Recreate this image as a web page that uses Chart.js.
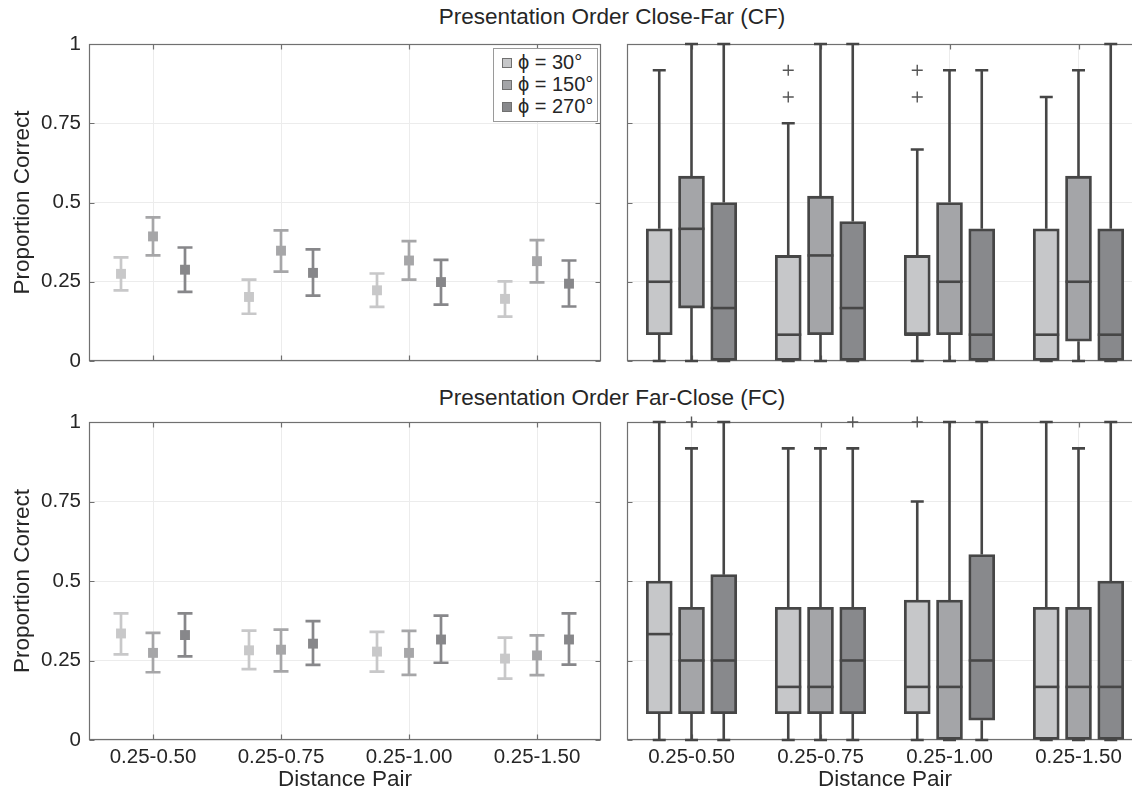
<!DOCTYPE html>
<html>
<head>
<meta charset="utf-8">
<script src="https://cdn.jsdelivr.net/npm/chart.js@4.4.0/dist/chart.umd.min.js"></script>
<style>
  html, body { margin: 0; padding: 0; width: 1132px; height: 796px; overflow: hidden; background: #fff; }
  body { position: relative; font-family: "Liberation Sans", Arial, sans-serif; color: #262626; }
  canvas { position: absolute; }
  .title { position: absolute; left: 312px; width: 600px; text-align: center; font-size: 22.5px; line-height: 26px; }
  .legend { position: absolute; left: 493px; top: 48px; width: 105px; height: 74px; border: 1px solid #9a9a9a; background: #fff; box-sizing: border-box; padding-top: 2px; }
  .legend div { height: 22px; line-height: 22px; font-size: 20px; white-space: nowrap; }
  .legend span { display: inline-block; width: 8px; height: 8px; border: 1px solid #707070; margin: 0 6px 0 8px; vertical-align: 1px; }
</style>
</head>
<body>
<div class="title" style="top:4px">Presentation Order Close-Far (CF)</div>
<div class="title" style="top:385px">Presentation Order Far-Close (FC)</div>

<canvas id="cfMeans" width="608" height="340" style="left:0;top:34px"></canvas>
<canvas id="cfBoxes" width="528" height="340" style="left:620px;top:34px"></canvas>
<canvas id="fcMeans" width="608" height="384" style="left:0;top:412px"></canvas>
<canvas id="fcBoxes" width="528" height="384" style="left:620px;top:412px"></canvas>

<div class="legend" id="legend"></div>

<script>
// categories and series
const distancePairs = ["0.25-0.50", "0.25-0.75", "0.25-1.00", "0.25-1.50"];
const phiLabels = ["ϕ = 30°", "ϕ = 150°", "ϕ = 270°"];

// mean proportion correct with error bar ends, one row per phi
const cfMean = [[0.275, 0.202, 0.223, 0.196], [0.393, 0.348, 0.317, 0.315], [0.288, 0.278, 0.249, 0.244]];
const cfLow  = [[0.223, 0.149, 0.171, 0.140], [0.333, 0.282, 0.257, 0.248], [0.218, 0.206, 0.178, 0.172]];
const cfHigh = [[0.327, 0.257, 0.276, 0.251], [0.453, 0.412, 0.378, 0.381], [0.358, 0.352, 0.319, 0.317]];

const fcMean = [[0.335, 0.282, 0.278, 0.256], [0.274, 0.284, 0.274, 0.266], [0.330, 0.303, 0.316, 0.316]];
const fcLow  = [[0.269, 0.223, 0.215, 0.193], [0.213, 0.216, 0.205, 0.204], [0.263, 0.236, 0.243, 0.237]];
const fcHigh = [[0.398, 0.344, 0.340, 0.322], [0.337, 0.347, 0.343, 0.329], [0.398, 0.374, 0.391, 0.398]];

// box stats [min, q1, median, q3, max] per phi, per distance pair
const cfBoxStats = [
  [[0, 0.083, 0.25, 0.417, 0.917], [0, 0, 0.083, 0.333, 0.75], [0, 0.083, 0.083, 0.333, 0.667], [0, 0, 0.083, 0.417, 0.833]],
  [[0, 0.167, 0.417, 0.583, 1], [0, 0.083, 0.333, 0.52, 1], [0, 0.083, 0.25, 0.5, 0.917], [0, 0.0625, 0.25, 0.583, 0.917]],
  [[0, 0, 0.167, 0.5, 1], [0, 0, 0.167, 0.44, 1], [0, 0, 0.083, 0.417, 0.917], [0, 0, 0.083, 0.417, 1]]
];
const cfOutliers = [
  [[], [0.833, 0.917], [0.833, 0.917], []],
  [[], [], [], []],
  [[], [], [], []]
];

const fcBoxStats = [
  [[0, 0.083, 0.333, 0.5, 1], [0, 0.083, 0.167, 0.417, 0.917], [0, 0.083, 0.167, 0.44, 0.75], [0, 0, 0.167, 0.417, 1]],
  [[0, 0.083, 0.25, 0.417, 0.917], [0, 0.083, 0.167, 0.417, 0.917], [0, 0, 0.167, 0.44, 1], [0, 0, 0.167, 0.417, 0.917]],
  [[0, 0.083, 0.25, 0.52, 1], [0, 0.083, 0.25, 0.417, 0.917], [0, 0.0625, 0.25, 0.583, 1], [0, 0, 0.167, 0.5, 1]]
];
const fcOutliers = [
  [[], [], [1], []],
  [[1], [], [], []],
  [[], [1], [], []]
];

// look
const markerColors = ["#c8c8c9", "#a6a6a8", "#87878a"];
const boxFills = ["#c6c7c9", "#a4a5a8", "#88898c"];
const boxLine = "#464646";
const seriesShift = [-0.25, 0, 0.25];
const textColor = "#262626";
const gridColor = "#ececec";

Chart.defaults.font.family = '"Liberation Sans", Arial, sans-serif';
Chart.defaults.color = textColor;

// legend
document.getElementById("legend").innerHTML = phiLabels
  .map((l, i) => '<div><span style="background:' + boxFills[i] + '"></span>' + l + '</div>')
  .join("");

function yAxis(showLabels) {
  return {
    min: 0, max: 1,
    ticks: { display: showLabels, stepSize: 0.25, padding: 8, font: { size: 20.5 },
             callback: v => String(+v.toFixed(2)) },
    grid: { color: gridColor, drawTicks: false },
    border: { display: false },
    title: { display: showLabels, text: "Proportion Correct", font: { size: 22.5 }, padding: { top: 9, bottom: 0 } },
    afterFit: s => { s.width = showLabels ? 89 : 7; s.paddingTop = 0; s.paddingBottom = 0; }
  };
}

function xAxis(showLabels) {
  return {
    type: "linear", min: 0.5, max: 4.5, offset: false,
    afterBuildTicks: s => { s.ticks = distancePairs.map((_, i) => ({ value: i + 1 })); },
    ticks: { display: showLabels, padding: 5, font: { size: 20.5 }, maxRotation: 0, autoSkip: false,
             callback: v => distancePairs[v - 1] },
    grid: { color: gridColor, drawTicks: false, offset: false },
    border: { display: false },
    title: { display: showLabels, text: "Distance Pair", font: { size: 22.5 }, padding: { top: 0, bottom: 3 } },
    afterFit: s => { s.height = showLabels ? 56 : 13; s.paddingLeft = 0; s.paddingRight = 0; }
  };
}

// MATLAB style box with inward ticks
const framePlugin = {
  id: "frame",
  beforeDatasetsDraw(chart) {
    const { ctx, chartArea: a, scales: { x, y } } = chart;
    const l = Math.round(a.left) + 0.5, r = Math.round(a.right) - 0.5;
    const t = Math.round(a.top) + 0.5, b = Math.round(a.bottom) - 0.5;
    ctx.save();
    ctx.strokeStyle = "#707070";
    ctx.lineWidth = 1.2;
    ctx.strokeRect(l, t, r - l, b - t);
    ctx.beginPath();
    y.ticks.forEach(tk => {
      const py = Math.round(y.getPixelForValue(tk.value)) + 0.5;
      ctx.moveTo(l, py); ctx.lineTo(l + 5, py);
      ctx.moveTo(r, py); ctx.lineTo(r - 5, py);
    });
    x.ticks.forEach(tk => {
      const px = Math.round(x.getPixelForValue(tk.value)) + 0.5;
      ctx.moveTo(px, b); ctx.lineTo(px, b - 5);
      ctx.moveTo(px, t); ctx.lineTo(px, t + 5);
    });
    ctx.stroke();
    ctx.restore();
  }
};

function makeMeansChart(id, means, lows, highs, showX) {
  const errorBars = {
    id: "errorBars",
    beforeDatasetsDraw(chart) {
      const { ctx, scales: { x, y } } = chart;
      ctx.save();
      ctx.lineWidth = 2.7;
      means.forEach((row, s) => {
        ctx.strokeStyle = markerColors[s];
        row.forEach((_, c) => {
          const px = x.getPixelForValue(c + 1 + seriesShift[s]);
          const top = y.getPixelForValue(highs[s][c]);
          const bot = y.getPixelForValue(lows[s][c]);
          ctx.beginPath();
          ctx.moveTo(px, top); ctx.lineTo(px, bot);
          ctx.moveTo(px - 7.5, top); ctx.lineTo(px + 7.5, top);
          ctx.moveTo(px - 7.5, bot); ctx.lineTo(px + 7.5, bot);
          ctx.stroke();
        });
      });
      ctx.restore();
    }
  };
  return new Chart(document.getElementById(id), {
    type: "scatter",
    data: {
      datasets: phiLabels.map((label, s) => ({
        label,
        data: means[s].map((v, c) => ({ x: c + 1 + seriesShift[s], y: v })),
        pointStyle: "rect",
        pointRadius: 7,
        pointBackgroundColor: markerColors[s],
        pointBorderWidth: 0
      }))
    },
    options: {
      responsive: false,
      animation: false,
      layout: { padding: { top: 10, right: 5, left: 0, bottom: 0 } },
      plugins: { legend: { display: false }, tooltip: { enabled: false } },
      scales: { x: xAxis(showX), y: yAxis(true) }
    },
    plugins: [framePlugin, errorBars]
  });
}

function makeBoxChart(id, stats, outliers, showX) {
  const half = 13;
  const boxParts = {
    id: "boxParts",
    beforeDatasetsDraw(chart) {
      // whiskers and caps
      const { ctx, scales: { x, y } } = chart;
      ctx.save();
      ctx.strokeStyle = boxLine;
      ctx.lineWidth = 2.6;
      stats.forEach((row, s) => row.forEach((st, c) => {
        const px = x.getPixelForValue(c + 1 + seriesShift[s]);
        const [mn, q1, , q3, mx] = st.map(v => y.getPixelForValue(v));
        ctx.beginPath();
        ctx.moveTo(px, q3); ctx.lineTo(px, mx);
        ctx.moveTo(px, q1); ctx.lineTo(px, mn);
        ctx.moveTo(px - half / 2, mx); ctx.lineTo(px + half / 2, mx);
        ctx.moveTo(px - half / 2, mn); ctx.lineTo(px + half / 2, mn);
        ctx.stroke();
      }));
      ctx.restore();
    },
    afterDatasetsDraw(chart) {
      // medians and outliers
      const { ctx, scales: { x, y } } = chart;
      ctx.save();
      ctx.strokeStyle = boxLine;
      ctx.lineWidth = 2.6;
      stats.forEach((row, s) => row.forEach((st, c) => {
        const px = x.getPixelForValue(c + 1 + seriesShift[s]);
        const py = y.getPixelForValue(st[2]);
        ctx.beginPath();
        ctx.moveTo(px - half, py); ctx.lineTo(px + half, py);
        ctx.stroke();
      }));
      ctx.strokeStyle = "#555";
      ctx.lineWidth = 1.4;
      outliers.forEach((row, s) => row.forEach((list, c) => {
        const px = x.getPixelForValue(c + 1 + seriesShift[s]);
        list.forEach(v => {
          const py = y.getPixelForValue(v);
          ctx.beginPath();
          ctx.moveTo(px - 5.5, py); ctx.lineTo(px + 5.5, py);
          ctx.moveTo(px, py - 5.5); ctx.lineTo(px, py + 5.5);
          ctx.stroke();
        });
      }));
      ctx.restore();
    }
  };
  return new Chart(document.getElementById(id), {
    type: "bar",
    data: {
      datasets: phiLabels.map((label, s) => ({
        label,
        data: stats[s].map((st, c) => ({ x: c + 1 + seriesShift[s], y: [st[1], st[3]] })),
        backgroundColor: boxFills[s],
        borderColor: boxLine,
        borderWidth: 2.8,
        borderSkipped: false,
        barThickness: 26,
        grouped: false
      }))
    },
    options: {
      responsive: false,
      animation: false,
      layout: { padding: { top: 10, right: 5, left: 0, bottom: 0 } },
      plugins: { legend: { display: false }, tooltip: { enabled: false } },
      scales: { x: xAxis(showX), y: yAxis(false) }
    },
    plugins: [framePlugin, boxParts]
  });
}

makeMeansChart("cfMeans", cfMean, cfLow, cfHigh, false);
makeBoxChart("cfBoxes", cfBoxStats, cfOutliers, false);
makeMeansChart("fcMeans", fcMean, fcLow, fcHigh, true);
makeBoxChart("fcBoxes", fcBoxStats, fcOutliers, true);
</script>
</body>
</html>
